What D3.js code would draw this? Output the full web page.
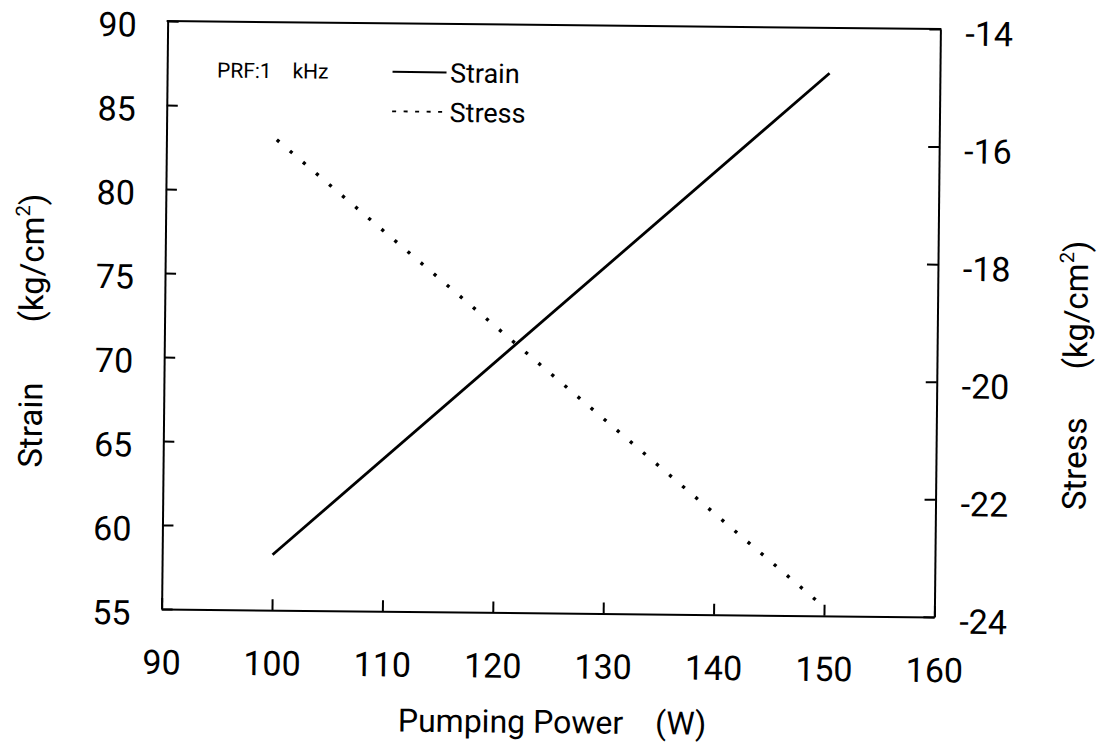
<!DOCTYPE html>
<html>
<head>
<meta charset="utf-8">
<script src="https://cdn.jsdelivr.net/npm/d3@7"></script>
<style>
 body { margin: 0; background: #fff; }
 text { font-family: Roboto, "Liberation Sans", sans-serif; fill: #000; }
</style>
</head>
<body>
<div id="chart"></div>
<script>
// tick labels
const powerTicks = [90, 100, 110, 120, 130, 140, 150, 160];
const strainTicks = [55, 60, 65, 70, 75, 80, 85, 90];
const stressTicks = [-24, -22, -20, -18, -16, -14];

// series
const power = [100, 150];
const strain = [58.3, 87.3];
const stress = [-16.0, -23.85];

// set the dimensions of the graph
const W = 1097, H = 744;
const plot = { left: 164.6, right: 937.4, top: 25, bottom: 613 };

const svg = d3
 .select("#chart")
 .append("svg")
 .attr("width", W)
 .attr("height", H);

svg.append("rect").attr("width", W).attr("height", H).attr("fill", "#fff");

// the scan is slightly tilted
const g = svg.append("g").attr("transform", "rotate(0.59,551,319)");

const x = d3.scaleLinear().domain([90, 160]).range([plot.left, plot.right]);
const yL = d3.scaleLinear().domain([55, 90]).range([plot.bottom, plot.top]);
const yR = d3.scaleLinear().domain([-24, -14]).range([plot.bottom, plot.top]);

// plain hyphen for negatives, like the original
const plain = (d) => String(d);

function styleAxis(sel) {
 sel.attr("font-family", null).attr("font-size", null);
 sel.select(".domain").attr("stroke", "#000").attr("stroke-width", 2);
 sel.selectAll(".tick line").attr("stroke", "#000").attr("stroke-width", 2);
 sel.selectAll(".tick text").style("font-size", "34px");
}

// X axis
g.append("g")
 .attr("transform", `translate(0,${plot.bottom})`)
 .call(d3.axisBottom(x).tickValues(powerTicks).tickFormat(plain)
   .tickSizeInner(-11).tickSizeOuter(0).tickPadding(41))
 .call(styleAxis);

// left Y axis
g.append("g")
 .attr("transform", `translate(${plot.left},0)`)
 .call(d3.axisLeft(yL).tickValues(strainTicks).tickFormat(plain)
   .tickSizeInner(-11).tickSizeOuter(0).tickPadding(31))
 .call(styleAxis)
 .selectAll(".tick text")
 .attr("dy", "0.45em");

// right Y axis
g.append("g")
 .attr("transform", `translate(${plot.right},0)`)
 .call(d3.axisRight(yR).tickValues(stressTicks).tickFormat(plain)
   .tickSizeInner(-11).tickSizeOuter(0).tickPadding(25))
 .call(styleAxis)
 .selectAll(".tick text")
 .attr("dy", "0.47em");

// top frame line
g.append("line")
 .attr("x1", plot.left - 1)
 .attr("x2", plot.right + 1)
 .attr("y1", plot.top)
 .attr("y2", plot.top)
 .attr("stroke", "#000")
 .attr("stroke-width", 2);

// Strain line
g.append("path")
 .datum(strain)
 .attr("d", d3.line().x((d, i) => x(power[i])).y((d) => yL(d)))
 .attr("fill", "none")
 .attr("stroke", "#000")
 .attr("stroke-width", 2.8);

// Stress line
g.append("path")
 .datum(stress)
 .attr("d", d3.line().x((d, i) => x(power[i])).y((d) => yR(d)))
 .attr("fill", "none")
 .attr("stroke", "#000")
 .attr("stroke-width", 3.4)
 .attr("stroke-dasharray", "3.2 14");

// axis titles
g.append("text")
 .attr("x", 402)
 .attr("y", 733)
 .style("font-size", "32px")
 .call((t) => {
   t.append("tspan").text("Pumping Power");
   t.append("tspan").attr("dx", 32).text("(W)");
 });

function yTitle(px, py, word, gap) {
 const t = g.append("text")
   .attr("transform", `translate(${px},${py}) rotate(-90)`)
   .attr("text-anchor", "middle")
   .style("font-size", "33px");
 t.append("tspan").text(word);
 t.append("tspan").attr("dx", gap).text("(kg/cm");
 t.append("tspan").attr("dy", -14).style("font-size", "20px").text("2");
 t.append("tspan").attr("dy", 14).text(")");
}
yTitle(43, 336, "Strain", 60);
yTitle(1087.5, 370, "Stress", 48);

// legend
g.append("text")
 .attr("x", 214.5)
 .attr("y", 81)
 .style("font-size", "21px")
 .call((t) => {
   t.append("tspan").text("PRF:1");
   t.append("tspan").attr("x", 290).text("kHz");
 });

g.append("line")
 .attr("x1", 390).attr("x2", 444)
 .attr("y1", 73.5).attr("y2", 73.5)
 .attr("stroke", "#000").attr("stroke-width", 2);
g.append("text").attr("x", 447.5).attr("y", 83.5).style("font-size", "27px").text("Strain");

g.append("line")
 .attr("x1", 390).attr("x2", 444)
 .attr("y1", 113).attr("y2", 113)
 .attr("stroke", "#000").attr("stroke-width", 1.8)
 .attr("stroke-dasharray", "4 7.5");
g.append("text").attr("x", 447.5).attr("y", 123).style("font-size", "27px").text("Stress");
</script>
</body>
</html>
